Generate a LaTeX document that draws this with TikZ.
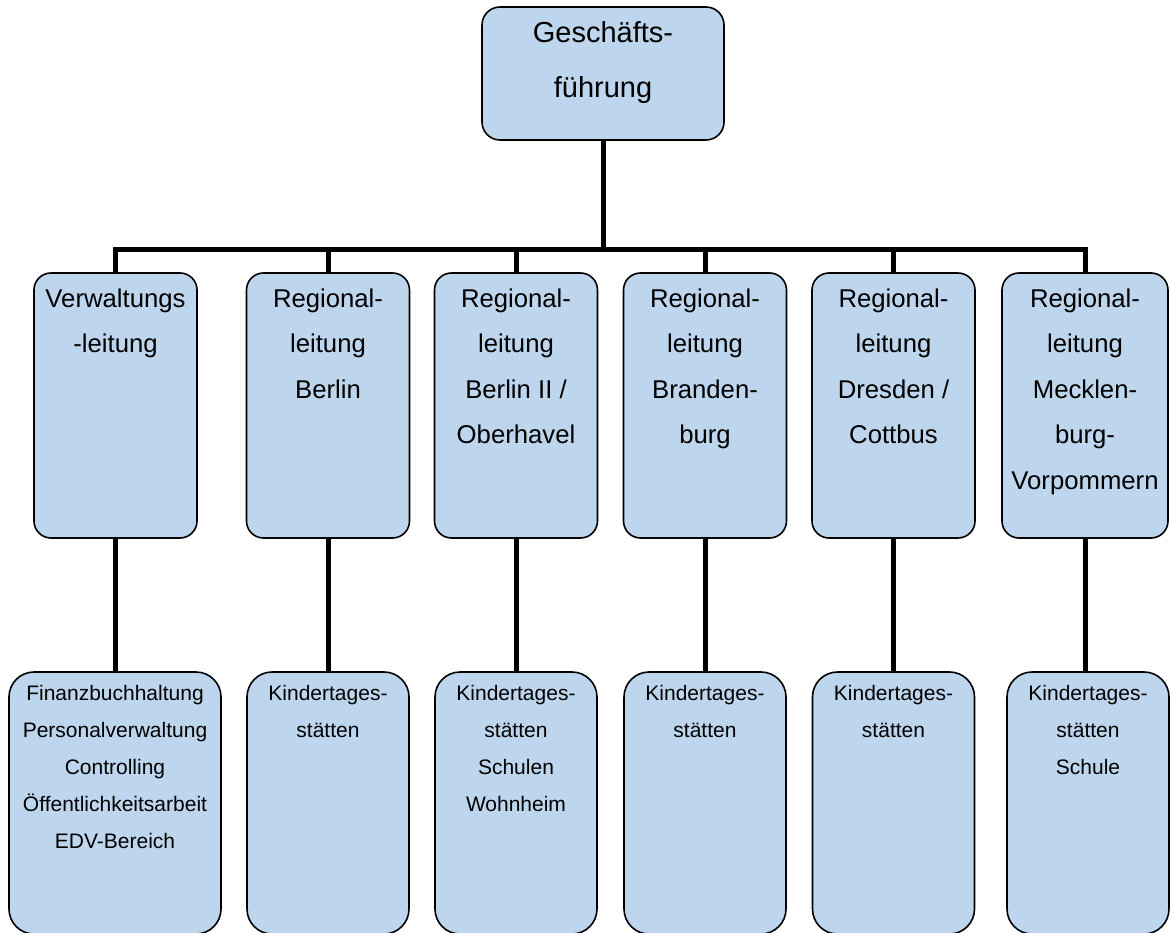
\documentclass[tikz,border=0pt]{standalone}
\usepackage{fontspec}
\setmainfont{Liberation Sans}
\definecolor{boxblue}{RGB}{190,214,237}
\tikzset{
  box/.style={draw=black, line width=1.6pt, fill=boxblue, inner sep=0pt},
  topbox/.style={box, rounded corners=18pt, minimum width=242pt, minimum height=133pt},
  midbox/.style={box, rounded corners=17pt, minimum width=163pt, minimum height=265pt},
  botbox/.style={box, rounded corners=25pt, minimum width=162pt, minimum height=262pt},
  toptext/.style={anchor=north, inner sep=0pt, align=center, font={\fontsize{29}{55}\selectfont}},
  midtext/.style={anchor=north, inner sep=0pt, align=center, font={\fontsize{25.7}{45.5}\selectfont}},
  bottext/.style={anchor=north, inner sep=0pt, align=center, font={\fontsize{21}{37}\selectfont}},
  conn/.style={draw=black, line width=5pt}
}
\begin{document}
\begin{tikzpicture}[x=1pt, y=-1pt]
\useasboundingbox (0,0) rectangle (1171,933);
% top box
\node[topbox] (top) at (603,73.5) {};
\node[toptext] (toptx) at ([yshift=-13pt]top.north) {\rule{0pt}{23pt}Geschäfts-\\führung};
% middle boxes
\node[midbox] (m1) at (115.5,405.5) {};
\node[midbox] (m2) at (328,405.5) {};
\node[midbox] (m3) at (516,405.5) {};
\node[midbox] (m4) at (705,405.5) {};
\node[midbox] (m5) at (893.5,405.5) {};
\node[midbox, minimum width=166pt] (m6) at (1085,405.5) {};
\node[midtext] (m1t) at ([yshift=-15pt]m1.north) {\rule{0pt}{20pt}Verwaltungs\\-leitung};
\node[midtext] (m2t) at ([yshift=-15pt]m2.north) {\rule{0pt}{20pt}Regional-\\leitung\\Berlin};
\node[midtext] (m3t) at ([yshift=-15pt]m3.north) {\rule{0pt}{20pt}Regional-\\leitung\\Berlin II /\\Oberhavel};
\node[midtext] (m4t) at ([yshift=-15pt]m4.north) {\rule{0pt}{20pt}Regional-\\leitung\\Branden-\\burg};
\node[midtext] (m5t) at ([yshift=-15pt]m5.north) {\rule{0pt}{20pt}Regional-\\leitung\\Dresden /\\Cottbus};
\node[midtext] (m6t) at ([yshift=-15pt]m6.north) {\rule{0pt}{20pt}Regional-\\leitung\\Mecklen-\\burg-\\Vorpommern};
% bottom boxes
\node[botbox, minimum width=212pt] (b1) at (115,803) {};
\node[botbox] (b2) at (328,803) {};
\node[botbox] (b3) at (516,803) {};
\node[botbox] (b4) at (705,803) {};
\node[botbox] (b5) at (893.5,803) {};
\node[botbox] (b6) at (1088,803) {};
\node[bottext] (b1t) at ([yshift=-12pt]b1.north) {\rule{0pt}{17pt}Finanzbuchhaltung\\Personalverwaltung\\Controlling\\Öffentlichkeitsarbeit\\EDV-Bereich};
\node[bottext] (b2t) at ([yshift=-12pt]b2.north) {\rule{0pt}{17pt}Kindertages-\\stätten};
\node[bottext] (b3t) at ([yshift=-12pt]b3.north) {\rule{0pt}{17pt}Kindertages-\\stätten\\Schulen\\Wohnheim};
\node[bottext] (b4t) at ([yshift=-12pt]b4.north) {\rule{0pt}{17pt}Kindertages-\\stätten};
\node[bottext] (b5t) at ([yshift=-12pt]b5.north) {\rule{0pt}{17pt}Kindertages-\\stätten};
\node[bottext] (b6t) at ([yshift=-12pt]b6.north) {\rule{0pt}{17pt}Kindertages-\\stätten\\Schule};
% connectors
\coordinate (bar) at (603,250);
\draw[conn] (top.south) -- (bar);
\draw[conn] (m1.north) -- (m1.north |- bar) -- (m6.north |- bar) -- (m6.north);
\foreach \i in {2,3,4,5} {
  \draw[conn] (m\i.north) -- (m\i.north |- bar);
}
\foreach \i in {1,...,6} {
  \draw[conn] (m\i.south) -- (m\i.south |- b\i.north);
}
\end{tikzpicture}
\end{document}
